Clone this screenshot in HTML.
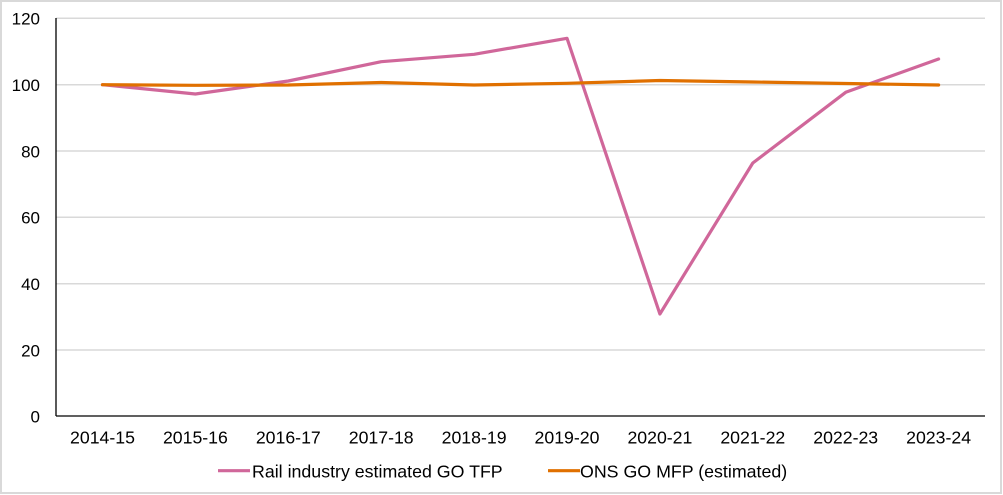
<!DOCTYPE html>
<html><head><meta charset="utf-8"><style>
html,body{margin:0;padding:0;background:#fff;}
svg{display:block;font-family:"Liberation Sans",Arial,sans-serif;}
</style></head><body>
<svg width="1003" height="495" viewBox="0 0 1003 495" xmlns="http://www.w3.org/2000/svg">
<rect x="1" y="1" width="1000" height="492" fill="#fff" stroke="#d9d9d9" stroke-width="2"/>
<g stroke="#d9d9d9" stroke-width="1.5">
<line x1="56" y1="18.3" x2="985" y2="18.3"/>
<line x1="56" y1="84.7" x2="985" y2="84.7"/>
<line x1="56" y1="151" x2="985" y2="151"/>
<line x1="56" y1="217.3" x2="985" y2="217.3"/>
<line x1="56" y1="283.7" x2="985" y2="283.7"/>
<line x1="56" y1="350" x2="985" y2="350"/>
</g>
<line x1="56" y1="18" x2="56" y2="416" stroke="#000" stroke-width="1.3"/>
<line x1="56" y1="416" x2="985" y2="416" stroke="#000" stroke-width="1.3"/>
<g font-size="17" fill="#000" text-anchor="end">
<text x="40" y="24.6">120</text>
<text x="40" y="91">100</text>
<text x="40" y="157.3">80</text>
<text x="40" y="223.6">60</text>
<text x="40" y="290">40</text>
<text x="40" y="356.3">20</text>
<text x="40" y="422.3">0</text>
</g>
<g font-size="17.7" fill="#000" text-anchor="middle">
<text x="102.5" y="443.5">2014-15</text>
<text x="195.4" y="443.5">2015-16</text>
<text x="288.3" y="443.5">2016-17</text>
<text x="381.2" y="443.5">2017-18</text>
<text x="474.1" y="443.5">2018-19</text>
<text x="567" y="443.5">2019-20</text>
<text x="659.9" y="443.5">2020-21</text>
<text x="752.8" y="443.5">2021-22</text>
<text x="845.7" y="443.5">2022-23</text>
<text x="938.6" y="443.5">2023-24</text>
</g>
<polyline fill="none" stroke="#d0679a" stroke-width="3.2" stroke-linejoin="round" stroke-linecap="round"
points="102.5,84.7 195.4,94 288.3,81 381.2,61.7 474.1,54.3 567,38.3 659.9,314 752.8,163 845.7,92.3 938.6,59"/>
<polyline fill="none" stroke="#e07000" stroke-width="3.2" stroke-linejoin="round" stroke-linecap="round"
points="102.5,84.7 195.4,85.3 288.3,85 381.2,82.5 474.1,85 567,83.3 659.9,80.5 752.8,82 845.7,83.5 938.6,85"/>
<line x1="218" y1="470.7" x2="250" y2="470.7" stroke="#d0679a" stroke-width="3.2"/>
<text x="252" y="477.5" font-size="17.8" fill="#000">Rail industry estimated GO TFP</text>
<line x1="548" y1="470.7" x2="580" y2="470.7" stroke="#e07000" stroke-width="3.2"/>
<text x="580" y="477.5" font-size="17.8" fill="#000">ONS GO MFP (estimated)</text>
</svg>
</body></html>
